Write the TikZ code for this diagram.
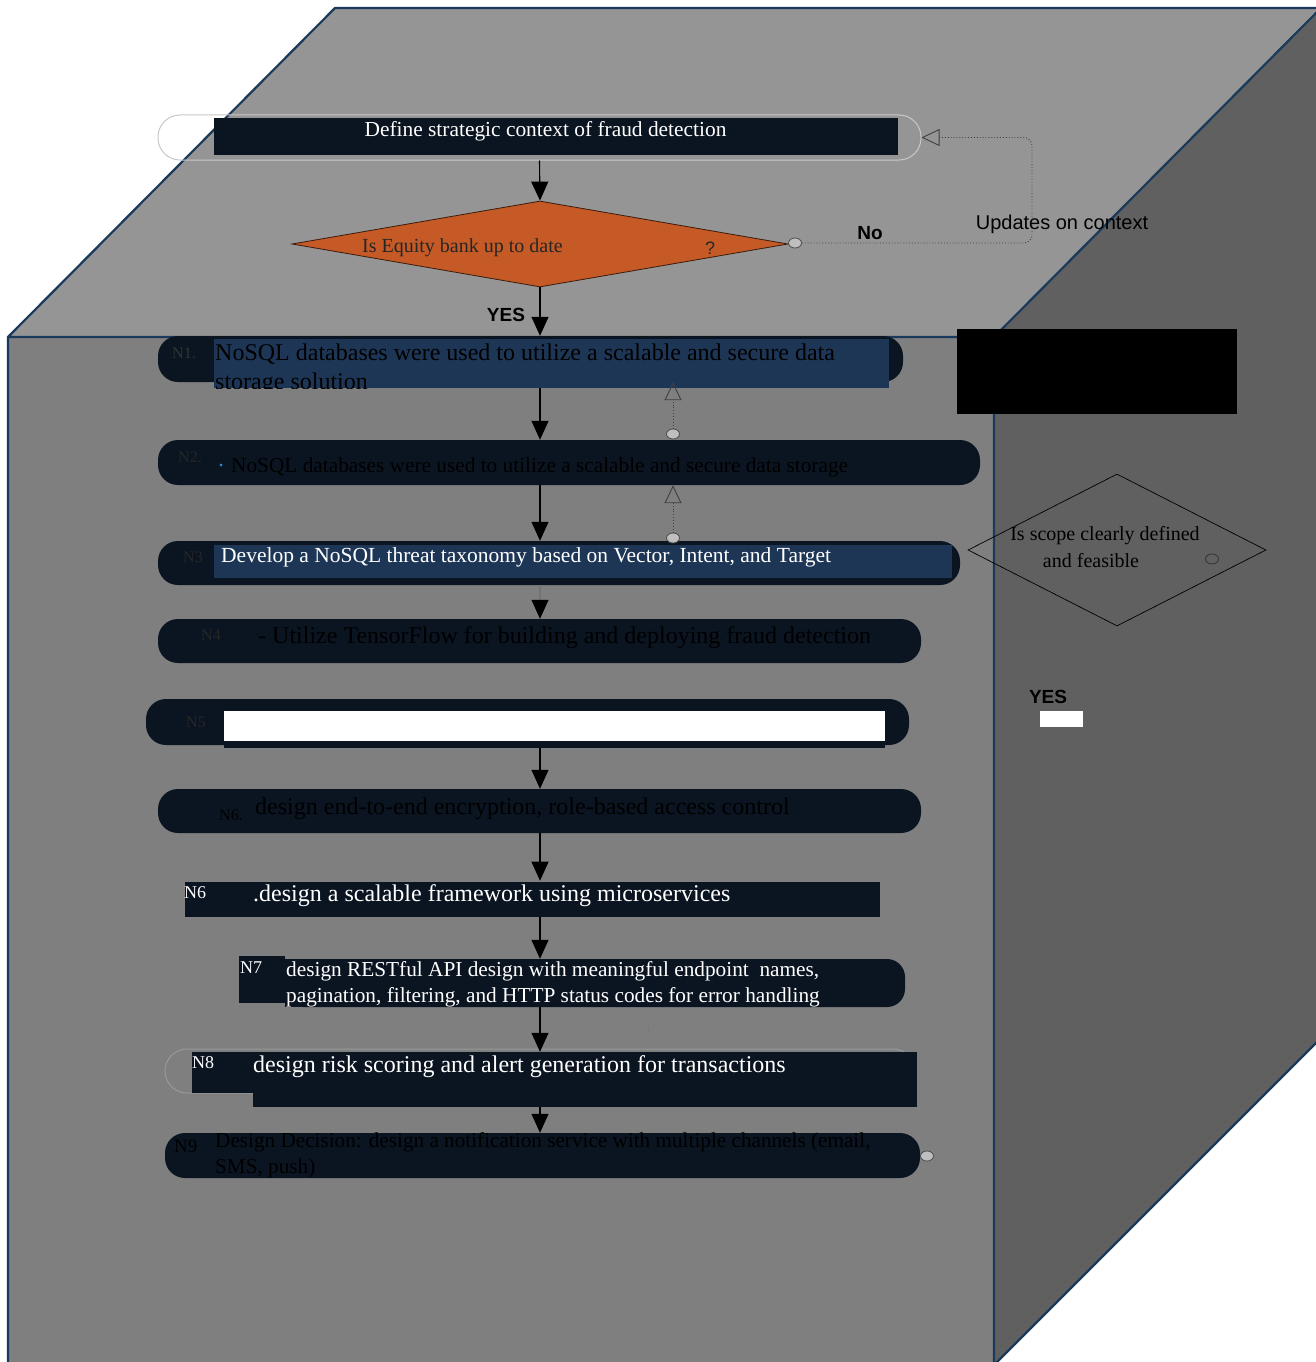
\documentclass[tikz,border=0pt]{standalone}
\usepackage{fontspec}
\setmainfont{Liberation Serif}
\newfontfamily\sansf{Liberation Sans}
\usetikzlibrary{arrows.meta,shapes.geometric,calc}

\definecolor{topface}{HTML}{959595}
\definecolor{frontface}{HTML}{7F7F7F}
\definecolor{sideface}{HTML}{606060}
\definecolor{edgeblue}{HTML}{1A3A5C}
\definecolor{navy}{HTML}{0B1521}
\definecolor{steel}{HTML}{1E3656}
\definecolor{amber}{HTML}{C55A27}
\definecolor{rimgray}{HTML}{C8C8C8}
\definecolor{dotblue}{HTML}{3A86C8}

\tikzset{
  pill/.style={fill=navy, draw=none, inner sep=0pt, rounded corners=20pt},
  slab/.style={fill=navy, draw=none, inner sep=0pt},
  band/.style={fill=steel, draw=none, inner sep=0pt},
  txt/.style={anchor=west, inner sep=0pt, font=\fontsize{21}{25}\selectfont},
  tag/.style={anchor=west, inner sep=0pt, font=\fontsize{16}{18}\selectfont, text=black},
  word/.style={inner sep=0pt, font=\sansf\fontsize{20}{23}\selectfont},
  flow/.style={draw=black, line width=1.1pt, -{Triangle[width=17pt,length=19pt,black]}},
  back/.style={draw=black!75, line width=0.9pt, dotted, -{Triangle[open,width=17pt,length=18pt]}},
  port/.style={ellipse, draw=black!70, fill=black!25, line width=0.8pt, minimum width=13pt, minimum height=10pt, inner sep=0pt},
}

\begin{document}
\begin{tikzpicture}[x=1pt,y=-1pt]
\useasboundingbox (0,0) rectangle (1316,1362);
\fill[white] (0,0) rectangle (1316,1362);

% cube faces
\fill[topface] (8,337) -- (335,8) -- (1321,8) -- (994,337) -- cycle;
\fill[sideface] (994,337) -- (1321,8) -- (1321,1038) -- (994,1365) -- cycle;
\fill[frontface] (8,337) rectangle (994,1365);
\draw[edgeblue, line width=2.2pt, line join=round]
  (8,1365) -- (8,337) -- (335,8) -- (1321,8)
  (8,337) -- (994,337) -- (994,1365)
  (994,337) -- (1321,8)
  (994,1365) -- (1321,1038);

% start terminal
\node[draw=rimgray, line width=1pt, rounded corners=22pt, minimum width=763pt, minimum height=45pt, inner sep=0pt] (startrim) at (539.5,137.5) {};
\node[slab, minimum width=684pt, minimum height=37pt] (start) at (556,136.5) {};
\node[inner sep=0pt, text=white, font=\fontsize{21.4}{25}\selectfont] (starttxt) at (545.5,131.5) {Define strategic context of fraud detection};

% decision: equity bank
\node[diamond, fill=amber, draw=black!70!amber, line width=0.8pt, minimum width=496pt, minimum height=86pt, inner sep=0pt] (dec) at (540,244) {};
\node[txt, font=\fontsize{20}{23}\selectfont, text=black!85] (dectxt) at (362,248) {Is Equity bank up to date};
\node[word, font=\sansf\fontsize{18}{21}\selectfont, text=black!85] (decq) at (710,248) {?};
\node[port] (decport) at (795,243) {};
\node[word, font=\sansf\bfseries\fontsize{19}{22}\selectfont] (nolbl) at (870,233) {No};
\node[word] (updlbl) at (1062,224) {Updates on context};
\draw[back, rounded corners=8pt] (decport.east) -| (1032,190) |- (startrim.east);

\draw[flow] (startrim.south) -- (dec.north);
\node[word, font=\sansf\bfseries\fontsize{19}{22}\selectfont] (yes1) at (506,315) {YES};

% N1
\node[pill, minimum width=745pt, minimum height=46pt] (n1) at (530.5,359) {};
\node[band, minimum width=675pt, minimum height=49pt] (n1band) at (551.5,363.5) {};
\node[tag, text=black!80] (n1tag) at (172,353) {N1.};
\begin{scope}
  \clip (214,339) rectangle (889,388);
  \node[txt, font=\fontsize{24}{28}\selectfont, text=black] (n1txt) at (215,354) {NoSQL databases were used to utilize a scalable and secure data};
  \node[txt, font=\fontsize{24}{28}\selectfont, text=black] (n1txtb) at (215,384) {storage solution};
\end{scope}
\draw[flow] (dec.south) -- (n1.north -| dec.south);

% redacted block
\node[fill=black, inner sep=0pt, minimum width=280pt, minimum height=85pt] (blk) at (1097,371.5) {};

% N2
\node[pill, minimum width=822pt, minimum height=45pt] (n2) at (569,462.5) {};
\node[tag, text=black!85] (n2tag) at (178,457) {N2.};
\node[inner sep=0pt, text=dotblue, font=\fontsize{22}{24}\selectfont] (n2dot) at (221,466) {.};
\node[txt, font=\fontsize{21.3}{25}\selectfont, text=black] (n2txt) at (231,467) {NoSQL databases were used to utilize a scalable and secure data storage};
\draw[flow] (n1band.south -| dec.south) -- (n2.north -| dec.south);
\node[port] (p2) at (673,434) {};
\draw[back] (p2.north) -- (n1.south -| p2);

% N3
\node[pill, minimum width=802pt, minimum height=44pt] (n3) at (559,563) {};
\node[band, minimum width=738pt, minimum height=33pt] (n3band) at (583,561.5) {};
\node[tag, text=black!85] (n3tag) at (183,557) {N3};
\node[txt, font=\fontsize{21.5}{25}\selectfont, text=white] (n3txt) at (221,557) {Develop a NoSQL threat taxonomy based on Vector, Intent, and Target};
\draw[flow] (n2.south -| dec.south) -- (n3.north -| dec.south);
\node[port] (p3) at (673,538) {};
\draw[back] (p3.north) -- (n2.south -| p3);

% N4
\node[pill, minimum width=763pt, minimum height=44pt] (n4) at (539.5,641) {};
\node[tag, text=black!85] (n4tag) at (201,635) {N4};
\node[txt, font=\fontsize{24}{28}\selectfont, text=black] (n4txt) at (258,638) {- Utilize TensorFlow for building and deploying fraud detection};
\draw[flow, draw=black!55] (n3.south -| dec.south) -- (n4.north -| dec.south);

% N5
\node[pill, minimum width=763pt, minimum height=46pt] (n5) at (527.5,722) {};
\node[slab, minimum width=661pt, minimum height=37pt] (n5base) at (554.5,729.5) {};
\node[fill=white, inner sep=0pt, minimum width=661pt, minimum height=30pt] (n5field) at (554.5,726) {};
\node[tag, text=black!85] (n5tag) at (186,722) {N5};

% N6 (encryption)
\node[pill, minimum width=763pt, minimum height=44pt] (n6a) at (539.5,811) {};
\node[tag, font=\fontsize{16}{18}\selectfont] (n6atag) at (219,815) {N6.};
\node[txt, font=\fontsize{24}{28}\selectfont, text=black] (n6atxt) at (255,809) {design end-to-end encryption, role-based access control};
\draw[flow] (n5base.south -| dec.south) -- (n6a.north -| dec.south);

% N6 (microservices)
\node[slab, draw=black!50, line width=0.6pt, minimum width=696pt, minimum height=36pt] (n6b) at (532,899) {};
\node[tag, text=white, font=\fontsize{18}{20}\selectfont] (n6btag) at (184,893) {N6};
\node[txt, font=\fontsize{24}{28}\selectfont, text=white] (n6btxt) at (253,896) {.design a scalable framework using microservices};
\draw[flow] (n6a.south -| dec.south) -- (n6b.north -| dec.south);

% N7
\node[pill, rounded corners=18pt, minimum width=620pt, minimum height=48pt] (n7) at (595,983) {};
\fill[navy] (285,959) rectangle (870,1007);
\node[slab, minimum width=46pt, minimum height=47pt] (n7cell) at (262,979.5) {};
\node[tag, text=white, font=\fontsize{18}{20}\selectfont] (n7tag) at (240,968) {N7};
\node[txt, font=\fontsize{21.3}{25}\selectfont, text=white] (n7txt) at (286,971) {design RESTful API design with meaningful endpoint\ \ names,};
\node[txt, font=\fontsize{21.3}{25}\selectfont, text=white] (n7txtb) at (286,997) {pagination, filtering, and HTTP status codes for error handling};
\draw[flow] (n6b.south -| dec.south) -- (n7.north -| dec.south);
\draw[black!55, line width=0.6pt, dotted] (648,1026) -- (648,1036);

% N8
\node[draw=black!40, line width=1pt, rounded corners=22pt, minimum width=750pt, minimum height=44pt, inner sep=0pt] (n8rim) at (540,1071) {};
\node[slab, minimum width=664pt, minimum height=55pt] (n8) at (585,1079.5) {};
\node[slab, minimum width=61pt, minimum height=41pt] (n8cell) at (222.5,1072.5) {};
\node[tag, text=white, font=\fontsize{18}{20}\selectfont] (n8tag) at (192,1063) {N8};
\node[txt, font=\fontsize{24}{28}\selectfont, text=white] (n8txt) at (253,1067) {design risk scoring and alert generation for transactions};
\draw[flow] (n7.south -| dec.south) -- (n8.north -| dec.south);

% N9
\node[pill, minimum width=755pt, minimum height=45pt] (n9) at (542.5,1155.5) {};
\node[tag, font=\fontsize{19}{21}\selectfont] (n9tag) at (174,1146) {N9};
\node[txt, font=\fontsize{21.2}{25}\selectfont, text=black] (n9txt) at (215,1142) {Design Decision: design a notification service with multiple channels (email,};
\node[txt, font=\fontsize{21.2}{25}\selectfont, text=black] (n9txtb) at (215,1168) {SMS, push)};
\node[port] (n9port) at (927,1156) {};
\draw[flow] (n8.south -| dec.south) -- (n9.north -| dec.south);

% scope decision on the side face
\node[diamond, draw=black, line width=0.7pt, minimum width=298pt, minimum height=152pt, inner sep=0pt] (scope) at (1117,550) {};
\node[inner sep=0pt, font=\fontsize{20}{23}\selectfont, text=black] (scopetxt) at (1105,536) {Is scope clearly defined};
\node[inner sep=0pt, font=\fontsize{20}{23}\selectfont, text=black] (scopetxtb) at (1091,561) {and feasible};
\node[port, draw=black!80, fill=none] (scopeport) at (1212,559) {};

\node[word, font=\sansf\bfseries\fontsize{19}{22}\selectfont] (yes2) at (1048,697) {YES};
\node[fill=white, inner sep=0pt, minimum width=43pt, minimum height=16pt] (yesfield) at (1061.5,719) {};
\end{tikzpicture}
\end{document}
